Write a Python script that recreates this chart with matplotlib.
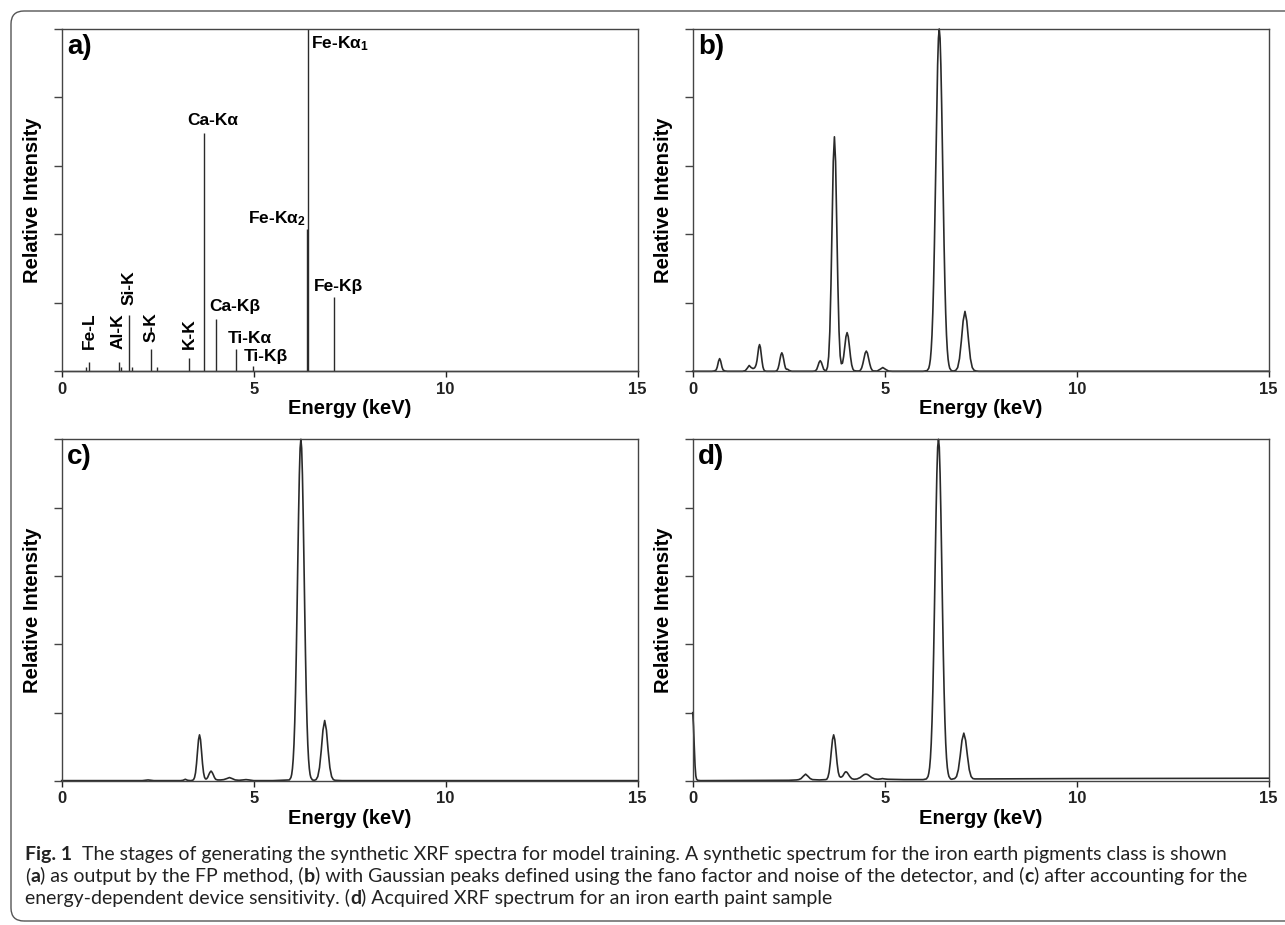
import numpy as np
import matplotlib
matplotlib.use("Agg")
import matplotlib.pyplot as plt
from matplotlib.patches import FancyBboxPatch
from matplotlib.transforms import IdentityTransform

plt.rcParams['font.family'] = ['Liberation Sans', 'DejaVu Sans']
plt.rcParams['mathtext.fontset'] = 'custom'
plt.rcParams['mathtext.rm'] = 'Liberation Sans:bold'
plt.rcParams['mathtext.it'] = 'Liberation Sans:bold'
plt.rcParams['mathtext.default'] = 'rm'

# ---- a) FP stick spectrum (line energy keV, relative intensity)
a_range = [0.0, 15.0]
a_keV = [0.63, 0.71, 1.49, 1.55, 1.745, 1.84, 2.32, 2.47, 3.32, 3.70,
         4.03, 4.53, 4.97, 6.385, 6.405, 7.08]
a_int = [0.013, 0.026, 0.026, 0.013, 0.165, 0.012, 0.065, 0.012, 0.039, 0.695,
         0.152, 0.065, 0.015, 0.416, 1.0, 0.217]
# labels: text, x, y, ha, va, rotation
a_labels = ["Fe-L", "Al-K", "Si-K", "S-K", "K-K", "Ca-K\u03b1", "Ca-K\u03b2",
            "Ti-K\u03b1", "Ti-K\u03b2", "Fe-K\u03b1$_2$", "Fe-K\u03b1$_1$", "Fe-K\u03b2"]
a_label_x = [0.71, 1.48, 1.76, 2.34, 3.32, 3.94, 4.50, 4.90, 5.32, 6.36, 6.49, 6.56]
a_label_y = [0.065, 0.065, 0.195, 0.087, 0.065, 0.732, 0.19, 0.097, 0.043, 0.447, 0.985, 0.249]
a_label_ha = ["center"] * 5 + ["center"] * 4 + ["right", "left", "left"]
a_label_va = ["bottom"] * 5 + ["center"] * 5 + ["top", "center"]
a_label_rot = [90] * 5 + [0] * 7

# ---- b) Gaussian broadened spectrum
b_keV = [0.0, 0.5, 0.565, 0.61, 0.637, 0.655, 0.673, 0.70, 0.727, 0.745, 0.763, 0.79, 0.835, 0.9,
         1.30, 1.37, 1.42, 1.47, 1.52, 1.57, 1.61, 1.632, 1.652, 1.674, 1.696, 1.718, 1.74, 1.762,
         1.784, 1.806, 1.828, 1.85, 1.872, 1.92,
         2.14, 2.176, 2.20, 2.224, 2.248, 2.272, 2.296, 2.32, 2.344, 2.368, 2.392, 2.416, 2.44,
         2.47, 2.52, 2.58,
         3.12, 3.17, 3.20, 3.23, 3.26, 3.29, 3.32, 3.35, 3.38, 3.41, 3.44, 3.46, 3.48,
         3.51, 3.54, 3.57, 3.60, 3.63, 3.66, 3.69, 3.72, 3.75, 3.78, 3.81, 3.84, 3.87, 3.90,
         3.93, 3.96, 3.99, 4.02, 4.05, 4.08, 4.11, 4.14, 4.17, 4.20, 4.27,
         4.34, 4.37, 4.40, 4.43, 4.46, 4.49, 4.52, 4.55, 4.58, 4.61, 4.64, 4.67, 4.70,
         4.80, 4.875, 4.95, 5.025, 5.10, 5.2,
         6.0, 6.105, 6.147, 6.168, 6.189, 6.21, 6.231, 6.252, 6.273, 6.294, 6.315, 6.336, 6.357,
         6.378, 6.399, 6.42, 6.441, 6.462, 6.483, 6.504, 6.525, 6.546, 6.567, 6.588, 6.609,
         6.63, 6.651, 6.672, 6.693, 6.735,
         6.77, 6.805, 6.852, 6.90, 6.947, 6.995, 7.042, 7.09, 7.137, 7.185, 7.232, 7.28, 7.327,
         7.375, 7.45, 15.0]
b_int = [0, 0, 0.001, 0.004, 0.012, 0.021, 0.030, 0.037, 0.030, 0.021, 0.012, 0.004, 0.001, 0,
         0, 0.002, 0.009, 0.017, 0.011, 0.008, 0.010, 0.014, 0.020, 0.032, 0.051, 0.070, 0.078, 0.070,
         0.050, 0.029, 0.013, 0.005, 0.0014, 0,
         0, 0.001, 0.0034, 0.0092, 0.020, 0.035, 0.048, 0.054, 0.048, 0.035, 0.020, 0.0095, 0.006,
         0.006, 0.002, 0,
         0, 0.0005, 0.002, 0.006, 0.0155, 0.026, 0.031, 0.026, 0.0155, 0.006, 0.0025, 0.002, 0.003,
         0.0127, 0.043, 0.116, 0.253, 0.44, 0.613, 0.685, 0.613, 0.44, 0.253, 0.117, 0.045, 0.022, 0.024,
         0.043, 0.073, 0.101, 0.113, 0.101, 0.073, 0.042, 0.019, 0.007, 0.002, 0.0008,
         0.001, 0.0037, 0.010, 0.022, 0.038, 0.053, 0.059, 0.053, 0.038, 0.022, 0.010, 0.0037, 0.001,
         0.0007, 0.0055, 0.011, 0.0055, 0.0007, 0,
         0, 0.002, 0.009, 0.019, 0.035, 0.063, 0.106, 0.170, 0.257, 0.369, 0.5, 0.642, 0.779,
         0.895, 0.973, 1.0, 0.973, 0.895, 0.779, 0.642, 0.5, 0.369, 0.257, 0.170, 0.106,
         0.063, 0.035, 0.019, 0.009, 0.002,
         0.001, 0.001, 0.003, 0.011, 0.037, 0.088, 0.147, 0.175, 0.147, 0.088, 0.037, 0.011, 0.003,
         0.001, 0, 0]

# ---- c) after device sensitivity
c_keV = [0.0, 2.10, 2.25, 2.40, 3.10, 3.16, 3.22, 3.28, 3.36,
         3.408, 3.434, 3.46, 3.486, 3.512, 3.538, 3.564, 3.59, 3.616, 3.642, 3.668, 3.694, 3.72, 3.746,
         3.77, 3.80, 3.83, 3.86, 3.89, 3.92, 3.95, 3.98, 4.01,
         4.06, 4.14, 4.22, 4.30, 4.37, 4.44, 4.52, 4.62, 4.72, 4.80, 4.88, 5.0, 5.5,
         5.93, 5.97, 5.99, 6.01, 6.03, 6.05, 6.07, 6.09, 6.11, 6.13, 6.15, 6.17, 6.19, 6.21, 6.23,
         6.25, 6.27, 6.29, 6.31, 6.33, 6.35, 6.37, 6.39, 6.41, 6.43, 6.45, 6.47, 6.49, 6.53, 6.58,
         6.625, 6.67, 6.715, 6.76, 6.805, 6.85, 6.895, 6.94, 6.985, 7.03, 7.075, 7.12, 7.3, 15.0]
c_int = [0.001, 0.001, 0.003, 0.001, 0.001, 0.002, 0.005, 0.002, 0.001,
         0.002, 0.004, 0.010, 0.024, 0.051, 0.087, 0.121, 0.135, 0.121, 0.087, 0.051, 0.025, 0.011, 0.006,
         0.006, 0.010, 0.018, 0.025, 0.029, 0.025, 0.018, 0.010, 0.005,
         0.003, 0.003, 0.004, 0.007, 0.010, 0.007, 0.003, 0.002, 0.003, 0.004, 0.003, 0.001, 0.001,
         0.003, 0.010, 0.019, 0.036, 0.064, 0.107, 0.171, 0.258, 0.370, 0.501, 0.643, 0.780, 0.896, 0.974, 1.0,
         0.974, 0.896, 0.780, 0.643, 0.501, 0.370, 0.258, 0.171, 0.107, 0.064, 0.036, 0.019, 0.010, 0.003, 0.002,
         0.004, 0.013, 0.039, 0.089, 0.149, 0.177, 0.149, 0.089, 0.039, 0.013, 0.004, 0.002, 0.001, 0.001]

# ---- d) acquired spectrum, iron earth paint
d_keV = [0.0, 0.02, 0.04, 0.06, 0.08, 0.10, 0.13, 0.2,
         2.5, 2.70, 2.76, 2.82, 2.88, 2.94, 3.00, 3.06, 3.12, 3.30,
         3.46, 3.49, 3.52, 3.55, 3.58, 3.61, 3.64, 3.67, 3.70, 3.73, 3.76, 3.79, 3.82, 3.85, 3.88,
         3.91, 3.94, 3.97, 3.99, 4.02, 4.05, 4.09, 4.14, 4.20,
         4.28, 4.36, 4.43, 4.47, 4.51, 4.55, 4.59, 4.66, 4.74, 4.82, 4.90, 4.94, 4.99, 5.08, 5.5, 6.0,
         6.085, 6.127, 6.148, 6.169, 6.19, 6.211, 6.232, 6.253, 6.274, 6.295, 6.316, 6.337, 6.358,
         6.379, 6.40, 6.421, 6.442, 6.463, 6.484, 6.505, 6.526, 6.547, 6.568, 6.589, 6.61, 6.631,
         6.652, 6.673, 6.715, 6.745,
         6.775, 6.822, 6.87, 6.917, 6.965, 7.012, 7.06, 7.107, 7.155, 7.202, 7.25, 7.297, 7.345,
         7.6, 10.0, 15.0]
d_int = [0.200, 0.160, 0.100, 0.045, 0.015, 0.005, 0.002, 0.001,
         0.002, 0.003, 0.004, 0.007, 0.014, 0.020, 0.014, 0.007, 0.004, 0.003,
         0.004, 0.005, 0.011, 0.025, 0.052, 0.088, 0.121, 0.135, 0.121, 0.088, 0.052, 0.026, 0.014, 0.011, 0.012,
         0.015, 0.021, 0.026, 0.027, 0.025, 0.020, 0.013, 0.007, 0.005,
         0.006, 0.010, 0.016, 0.019, 0.020, 0.019, 0.016, 0.010, 0.006, 0.005, 0.006, 0.007, 0.006, 0.005, 0.004, 0.004,
         0.006, 0.013, 0.023, 0.039, 0.067, 0.110, 0.174, 0.261, 0.373, 0.504, 0.646, 0.783, 0.899,
         0.977, 1.0, 0.977, 0.899, 0.783, 0.646, 0.504, 0.373, 0.261, 0.174, 0.110, 0.067, 0.039,
         0.023, 0.013, 0.006, 0.005,
         0.006, 0.007, 0.013, 0.033, 0.073, 0.119, 0.140, 0.119, 0.073, 0.033, 0.013, 0.007, 0.006,
         0.006, 0.007, 0.008]

x_ticks = [0, 5, 10, 15]
y_ticks = [0, 0.2, 0.4, 0.6, 0.8, 1.0]
panel_tags = ["a)", "b)", "c)", "d)"]

caption = [
    [("Fig. 1", "bold"), ("  The stages of generating the synthetic XRF spectra for model training. "
                          "A synthetic spectrum for the iron earth pigments class is shown", "normal")],
    [("(", "normal"), ("a", "bold"), (") as output by the FP method, (", "normal"), ("b", "bold"),
     (") with Gaussian peaks defined using the fano factor and noise of the detector, and (", "normal"),
     ("c", "bold"), (") after accounting for the", "normal")],
    [("energy-dependent device sensitivity. (", "normal"), ("d", "bold"),
     (") Acquired XRF spectrum for an iron earth paint sample", "normal")],
]
CAP_FONT = ["Lato", "DejaVu Sans"]

LINE = "#2a2a2a"

fig = plt.figure(figsize=(12.85, 9.25), dpi=100)

# rounded frame around figure + caption
frame = FancyBboxPatch((11, 4), 1300, 910, boxstyle="round,pad=0,rounding_size=13",
                       transform=IdentityTransform(), fill=False, ec="#555555", lw=1.0)
fig.patches.append(frame)

boxes = [[0.0480, 0.5986, 0.4482, 0.3701],
         [0.5391, 0.5986, 0.4482, 0.3701],
         [0.0480, 0.1557, 0.4482, 0.3694],
         [0.5391, 0.1557, 0.4482, 0.3694]]
axes = [fig.add_axes(b) for b in boxes]

for ax, tag in zip(axes, panel_tags):
    ax.set_xlim(0, 15)
    ax.set_ylim(0, 1.0)
    ax.set_xticks(x_ticks)
    ax.set_yticks(y_ticks)
    ax.set_yticklabels([])
    ax.tick_params(axis="x", direction="out", length=4, width=1.0, pad=3.5,
                   labelsize=12, colors="#222222")
    ax.tick_params(axis="y", direction="out", length=6, width=1.0, colors="#444444")
    for lab in ax.get_xticklabels():
        lab.set_fontweight("bold")
    for s in ax.spines.values():
        s.set_linewidth(1.0)
        s.set_color("#444444")
    ax.set_xlabel("Energy (keV)", fontsize=14.5, fontweight="bold", labelpad=2)
    ax.set_ylabel("Relative Intensity", fontsize=14.5, fontweight="bold", labelpad=5)
    ax.text(0.009, 0.985, tag, transform=ax.transAxes, fontsize=20, fontweight="bold",
            ha="left", va="top")

# a) stick spectrum
ax = axes[0]
ax.plot(a_range, [0, 0], color=LINE, lw=1.0, clip_on=False)
ax.vlines(a_keV, 0, a_int, color=LINE, lw=1.0)
for t, x, y, ha, va, r in zip(a_labels, a_label_x, a_label_y, a_label_ha, a_label_va, a_label_rot):
    ax.text(x, y, t, ha=ha, va=va, rotation=r, fontsize=12.5, fontweight="bold")

for ax, e, i in zip(axes[1:], [b_keV, c_keV, d_keV], [b_int, c_int, d_int]):
    ax.plot(e, i, color=LINE, lw=1.2, solid_joinstyle="round", clip_on=False)

# caption, chained text segments so bold words sit inline
cap_ax = fig.add_axes([0, 0, 1, 1])
cap_ax.axis("off")
cap_ax.set_zorder(-1)
line_bottoms = [0.0675, 0.0428, 0.0190]
cap_texts = []
for segs, yb in zip(caption, line_bottoms):
    prev = cap_ax.text(25 / 1285, yb, segs[0][0], transform=fig.transFigure, fontsize=12,
                       fontweight=segs[0][1], family=CAP_FONT,
                       ha="left", va="bottom", color="#222222")
    row = [prev]
    for s, w in segs[1:]:
        prev = cap_ax.annotate(s, xy=(1, 0), xycoords=prev, ha="left", va="bottom", fontsize=12,
                               fontweight=w, family=CAP_FONT, color="#222222")
        row.append(prev)
    cap_texts.append(row)

fig.canvas.draw()
r = fig.canvas.get_renderer()
w1 = cap_texts[0][-1].get_window_extent(r).x1 - cap_texts[0][0].get_window_extent(r).x0
scale = (1222 - 25) / w1
for row in cap_texts:
    for t in row:
        t.set_fontsize(12 * scale)

fig.savefig("out.png", dpi=100)
